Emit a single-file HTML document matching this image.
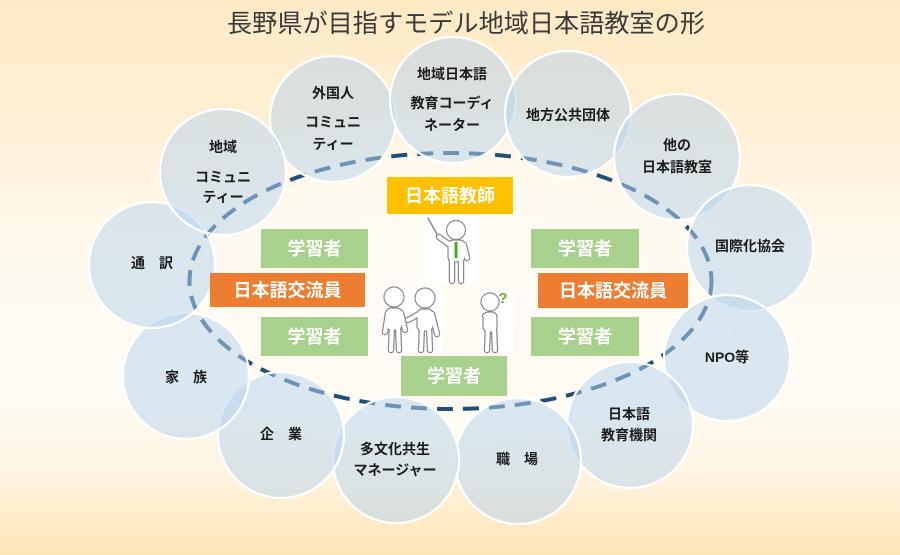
<!DOCTYPE html>
<html><head><meta charset="utf-8">
<style>
html,body{margin:0;padding:0;width:900px;height:555px;overflow:hidden;background:#fff;}
svg{display:block;}
.t{font-family:"Liberation Sans","Noto Sans CJK JP",sans-serif;font-size:14px;font-weight:700;fill:#1c1c1c;text-anchor:middle;}
.b{font-family:"Liberation Sans","Noto Sans CJK JP",sans-serif;font-size:18px;font-weight:700;fill:#fff;text-anchor:middle;}
</style></head>
<body>
<svg width="900" height="555" viewBox="0 0 900 555" xmlns="http://www.w3.org/2000/svg">
<defs>
<linearGradient id="bg" x1="0" y1="0" x2="0" y2="1">
<stop offset="0" stop-color="#fde9c4"/>
<stop offset="0.22" stop-color="#fef0d6"/>
<stop offset="0.45" stop-color="#fff9ee"/>
<stop offset="0.7" stop-color="#fffcf6"/>
<stop offset="0.86" stop-color="#fef4e0"/>
<stop offset="1" stop-color="#fde4b4"/>
</linearGradient>
<radialGradient id="glow" cx="450" cy="285" r="300" gradientUnits="userSpaceOnUse" gradientTransform="translate(450 285) scale(1 0.6) translate(-450 -285)">
<stop offset="0" stop-color="#ffffff" stop-opacity="0.9"/>
<stop offset="0.7" stop-color="#fffdf7" stop-opacity="0.5"/>
<stop offset="1" stop-color="#ffffff" stop-opacity="0"/>
</radialGradient>
</defs>
<rect width="900" height="555" fill="url(#bg)"/>
<rect width="900" height="555" fill="url(#glow)"/>

<text x="227" y="32" textLength="478" lengthAdjust="spacingAndGlyphs" style="font-family:'Liberation Sans','Noto Sans CJK JP',sans-serif;font-size:25px;font-weight:400;fill:#3a3a3a;">長野県が目指すモデル地域日本語教室の形</text>

<!-- dashed ellipse -->
<ellipse cx="450.5" cy="281" rx="261" ry="128" fill="#fffaf0" fill-opacity="0.5" stroke="#1f4e79" stroke-width="4" stroke-dasharray="16 10"/>

<!-- circles -->
<g fill="#b9d2eb" fill-opacity="0.52" stroke="#ffffff" stroke-width="2.2">
<circle cx="333" cy="119" r="63"/>
<circle cx="453" cy="100" r="63"/>
<circle cx="568" cy="114" r="63"/>
<circle cx="677" cy="157" r="63"/>
<circle cx="750" cy="248" r="63"/>
<circle cx="727" cy="358" r="63"/>
<circle cx="630" cy="425" r="63"/>
<circle cx="518" cy="461" r="63"/>
<circle cx="396" cy="460" r="63"/>
<circle cx="281" cy="435" r="63"/>
<circle cx="186" cy="376" r="63"/>
<circle cx="152" cy="265" r="63"/>
<circle cx="223" cy="172" r="63"/>
</g>

<!-- circle labels -->
<text class="t" x="333" y="98">外国人</text>
<text class="t" x="333" y="127">コミュニ</text>
<text class="t" x="333" y="149">ティー</text>

<text class="t" x="452" y="79">地域日本語</text>
<text class="t" x="452" y="108">教育コーディ</text>
<text class="t" x="452" y="130">ネーター</text>

<text class="t" x="568" y="120">地方公共団体</text>

<text class="t" x="677" y="150">他の</text>
<text class="t" x="677" y="172">日本語教室</text>

<text class="t" x="750" y="251">国際化協会</text>

<text class="t" x="727" y="362">NPO等</text>

<text class="t" x="629" y="419">日本語</text>
<text class="t" x="629" y="440">教育機関</text>

<text class="t" x="517" y="464">職　場</text>

<text class="t" x="395" y="454">多文化共生</text>
<text class="t" x="395" y="475">マネージャー</text>

<text class="t" x="281" y="439">企　業</text>

<text class="t" x="186" y="382">家　族</text>

<text class="t" x="152" y="268">通　訳</text>

<text class="t" x="223" y="152">地域</text>
<text class="t" x="223" y="182">コミュニ</text>
<text class="t" x="223" y="202">ティー</text>

<!-- boxes -->
<rect x="387" y="177" width="126" height="37" fill="#ffc000"/>
<text class="b" x="450" y="202">日本語教師</text>

<rect x="261" y="229" width="107" height="39" fill="#a9d18e"/>
<text class="b" x="314.5" y="255">学習者</text>
<rect x="210" y="273" width="155" height="34" fill="#ed7d31"/>
<text class="b" x="287.5" y="296.5">日本語交流員</text>
<rect x="261" y="317" width="107" height="39" fill="#a9d18e"/>
<text class="b" x="314.5" y="343">学習者</text>

<rect x="531" y="229" width="108" height="39" fill="#a9d18e"/>
<text class="b" x="585" y="255">学習者</text>
<rect x="538" y="273" width="150" height="35" fill="#ed7d31"/>
<text class="b" x="613" y="297">日本語交流員</text>
<rect x="531" y="317" width="108" height="39" fill="#a9d18e"/>
<text class="b" x="585" y="343">学習者</text>

<rect x="401" y="356" width="106" height="40" fill="#a9d18e"/>
<text class="b" x="454" y="382.5">学習者</text>

<!-- figure backgrounds -->
<rect x="425" y="215" width="52" height="68" fill="#ffffff"/>
<rect x="383" y="287" width="59" height="65" fill="#ffffff"/>
<rect x="480" y="290" width="34" height="62" fill="#ffffff"/>

<!-- figures: gray outlines -->
<g stroke="#8a8a8a" stroke-linecap="round" fill="none">
  <!-- teacher -->
  <line x1="428" y1="218" x2="438" y2="236" stroke-width="1.5"/>
  <g stroke-width="6.5">
    <line x1="452" y1="258" x2="452" y2="281"/>
    <line x1="461" y1="258" x2="461" y2="281"/>
    <line x1="450" y1="245" x2="439" y2="237"/>
    <line x1="464" y1="245" x2="467" y2="258"/>
    <line x1="392" y1="326" x2="391" y2="350"/>
    <line x1="398" y1="326" x2="399" y2="350"/>
    <line x1="388" y1="313" x2="385" y2="332"/>
    <line x1="401" y1="313" x2="405" y2="330"/>
    <line x1="422" y1="327" x2="421" y2="350"/>
    <line x1="429" y1="327" x2="430" y2="350"/>
    <line x1="419" y1="314" x2="408" y2="320"/>
    <line x1="432" y1="314" x2="437" y2="334"/>
    <line x1="488" y1="328" x2="487" y2="350"/>
    <line x1="494" y1="328" x2="495" y2="350"/>
    <polyline points="485,316 489,323 493,315"/>
  </g>
</g>
<g fill="#ffffff" stroke="#8a8a8a" stroke-width="1.2">
  <rect x="448" y="240" width="17" height="22" rx="5"/>
  <rect x="386" y="308" width="16" height="22" rx="5"/>
  <rect x="417" y="309" width="16" height="22" rx="5"/>
  <rect x="483" y="312" width="14" height="20" rx="5"/>
</g>
<g stroke="#ffffff" stroke-linecap="round" fill="none" stroke-width="4">
  <line x1="452" y1="258" x2="452" y2="281"/>
  <line x1="461" y1="258" x2="461" y2="281"/>
  <line x1="450" y1="245" x2="439" y2="237"/>
  <line x1="464" y1="245" x2="467" y2="258"/>
  <line x1="392" y1="326" x2="391" y2="350"/>
  <line x1="398" y1="326" x2="399" y2="350"/>
  <line x1="388" y1="313" x2="385" y2="332"/>
  <line x1="401" y1="313" x2="405" y2="330"/>
  <line x1="422" y1="327" x2="421" y2="350"/>
  <line x1="429" y1="327" x2="430" y2="350"/>
  <line x1="419" y1="314" x2="408" y2="320"/>
  <line x1="432" y1="314" x2="437" y2="334"/>
  <line x1="488" y1="328" x2="487" y2="350"/>
  <line x1="494" y1="328" x2="495" y2="350"/>
  <polyline points="485,316 489,323 493,315"/>
</g>
<g fill="#ffffff" stroke="#8a8a8a" stroke-width="1.2">
  <circle cx="456" cy="230" r="9.5"/>
  <circle cx="394" cy="297" r="10"/>
  <circle cx="425" cy="298" r="10"/>
  <circle cx="490" cy="302" r="9"/>
</g>
<line x1="456" y1="242" x2="456" y2="258" stroke="#4ea72a" stroke-width="3"/>
<text x="503" y="303" style="font-family:'Liberation Sans',sans-serif;font-size:15px;font-weight:700;fill:#6aae2c;text-anchor:middle;">?</text>
</svg>
</body></html>
